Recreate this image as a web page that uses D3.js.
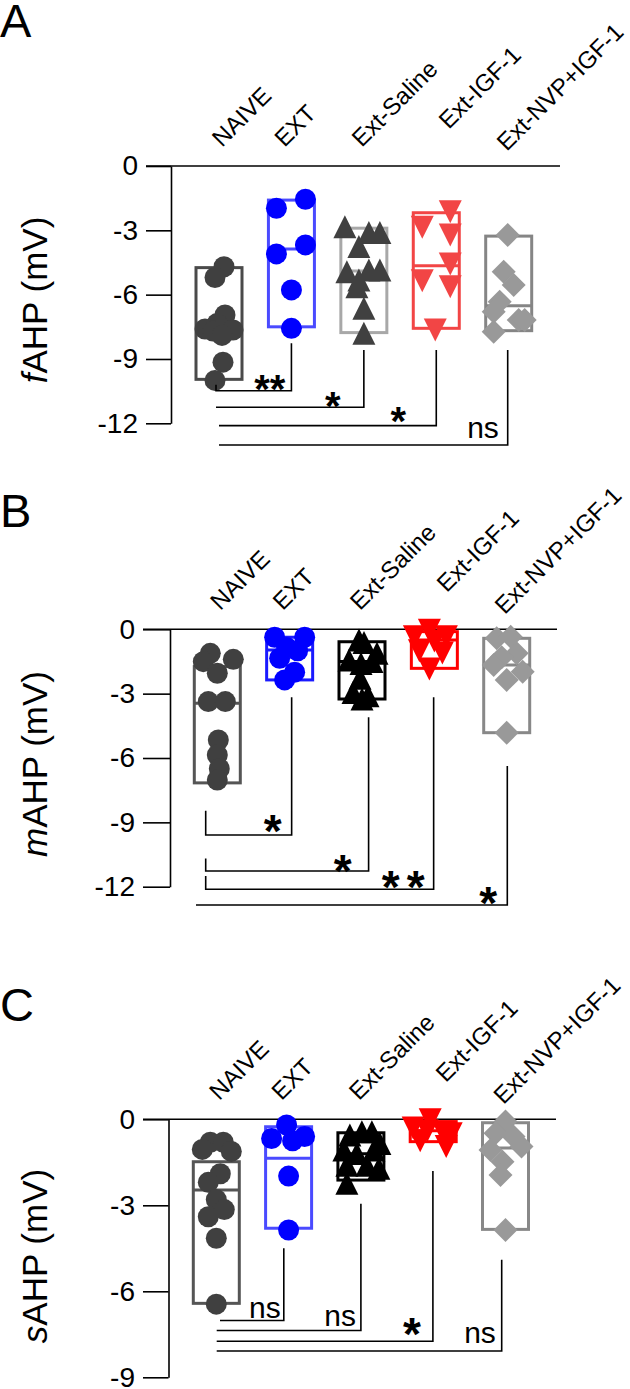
<!DOCTYPE html>
<html><head><meta charset="utf-8">
<script src="https://cdn.jsdelivr.net/npm/d3@7"></script>
<style>body{margin:0;background:#fff}svg{display:block}text{font-family:"Liberation Sans",Arial,Helvetica,sans-serif}</style>
</head><body>
<svg id="chart" width="630" height="1389"></svg>
<script>
// ---------------- DATA ----------------
const categories = ["NAIVE", "EXT", "Ext-Saline", "Ext-IGF-1", "Ext-NVP+IGF-1"];
const ticksAB = [0, -3, -6, -9, -12];
const ticksC = [0, -3, -6, -9];
const panelLetters = ["A", "B", "C"];
const yTitles = [["f", "AHP (mV)"], ["m", "AHP (mV)"], ["s", "AHP (mV)"]];

// Panel A: fAHP (mV)
const fNaive = [-4.7, -5.2, -6.95, -7.35, -7.6, -7.65, -7.7, -7.9, -9.15, -10.0];
const fExt = [-1.55, -1.97, -3.68, -4.10, -5.78, -7.57];
const fSaline = [-2.83, -3.1, -3.1, -3.76, -4.93, -4.85, -4.85, -5.32, -5.63, -6.64, -7.8];
const fIgf = [-2.13, -2.86, -3.22, -4.57, -5.35, -5.63, -7.65];
const fNvp = [-3.22, -4.93, -5.55, -6.33, -6.8, -7.18, -7.18, -7.73];
const fBoxMax = [-4.74, -1.59, -2.9, -2.18, -3.27];
const fBoxMin = [-9.95, -7.5, -7.77, -7.57, -7.68];
const fBoxMid = [-7.6, -3.87, -4.9, -4.65, -6.52];
const fSig = ["**", "*", "*", "ns"];

// Panel B: mAHP (mV)
const mNaive = [-1.12, -1.51, -1.4, -2.05, -3.37, -3.37, -5.16, -5.86, -6.5, -7.03];
const mExt = [-0.37, -0.37, -0.85, -1.0, -1.35, -2.0, -2.36];
const mSaline = [-0.5, -0.62, -1.12, -1.43, -1.6, -1.5, -2.28, -2.95, -3.1, -3.25];
const mIgf = [-0.05, -0.35, -0.35, -0.55, -1.0, -1.1, -1.85];
const mNvp = [-0.42, -0.35, -1.12, -1.3, -1.66, -1.98, -2.36, -4.82];
const mBoxMax = [-1.74, -0.37, -0.58, -0.11, -0.42];
const mBoxMin = [-7.16, -2.36, -3.25, -1.82, -4.82];
const mBoxMid = [-3.45, -0.97, -1.5, -0.5, -1.66];
const mSig = ["*", "*", "**", "*"];

// Panel C: sAHP (mV)
const sNaive = [-0.8, -0.8, -1.05, -1.12, -1.9, -2.2, -2.8, -3.15, -3.4, -4.15, -6.45];
const sExt = [-0.2, -0.67, -0.75, -0.6, -1.98, -3.86];
const sSaline = [-0.55, -0.43, -0.43, -0.84, -1.07, -1.19, -1.07, -1.6, -1.6, -1.71, -2.23];
const sIgf = [-0.02, -0.3, -0.4, -0.45, -0.5, -0.75, -0.95];
const sNvp = [-0.08, -0.49, -0.6, -0.95, -1.07, -1.48, -1.94, -3.86];
const sBoxMax = [-1.48, -0.26, -0.47, -0.08, -0.12];
const sBoxMin = [-6.42, -3.8, -2.12, -0.78, -3.84];
const sBoxMid = [-2.47, -1.36, -1.2, -0.4, -1.0];
const sSig = ["ns", "ns", "*", "ns"];

// ---------------- LAYOUT (positions / styles, not data) ----------------
const jitterA = [[5,-4,6,-2,-14,14,-6,3,4,-4],[14,-15,14,-15,0,0],[-19,5,16,-5,-17,5,16,-5,-7,0,0],[14,-14,14,14,-14,14,-1],[-1,-5,5,-9,-15,10,16,-15]];
const jitterB = [[-7,-14,16,0,-9,8,1,0,2,0],[-15,15,-3,8,-10,5,-5],[-3,2,15,-13,-1,10,-2,-9,6,0],[-5,-20,12,0,-15,8,-5],[-10,4,10,-5,-13,16,0,0]];
const jitterC = [[-6,7,-14,15,4,-8,0,8,-8,0,0],[-2,-17,4,16,0,0],[-11,1,11,19,-17,-4,13,-14,6,18,-14],[-3,-20,-6,10,18,-13,13],[0,-10,8,16,-15,-3,-5,0]];
const shapes = ["circle", "circle", "triUp", "triDown", "diamond"];
const labelDx = [3, -7, -2, 12.5, -2];
const labelDy = [-18, -18, -18, -36, -14];
const LABEL_ANGLE = -45;

const panels = [
  { letter: panelLetters[0], title: yTitles[0], groups: [fNaive, fExt, fSaline, fIgf, fNvp], jit: jitterA,
    boxMax: fBoxMax, boxMin: fBoxMin, boxMid: fBoxMid, sig: fSig, ticks: ticksAB,
    yRange: [166, 423.3], xRange: [219, 508.7], axisX: 171, tickLeft: 146, zeroRight: 560, titleY: 300, letterY: 37,
    fill: ["#404040", "#0000ff", "#404040", "#f24545", "#999999"],
    stroke: ["#4a4a4a", "#4a4aff", "#a8a8a8", "#f24545", "#858585"],
    brackets: { level: [-10.48, -11.25, -12.11, -13.01], leftTop: [-10.2, null, null, null], rightTop: [-8.27, -8.58, -8.58, -8.58],
      leftDx: [-3, -3, 0, 0], rightDx: [0, 0, 0, -1], lab: [[-21.7, -10.7], [-31, -10.3], [-38, -14], [-24.7, -15]] },
    starSize: 40, starSpacing: 0 },
  { letter: panelLetters[1], title: yTitles[1], groups: [mNaive, mExt, mSaline, mIgf, mNvp], jit: jitterB,
    boxMax: mBoxMax, boxMin: mBoxMin, boxMid: mBoxMid, sig: mSig, ticks: ticksAB,
    yRange: [629.3, 886.7], xRange: [217.3, 506.7], axisX: 170, tickLeft: 143, zeroRight: 557, titleY: 764, letterY: 527,
    fill: ["#404040", "#0000ff", "#000000", "#ff0000", "#999999"],
    stroke: ["#555555", "#1a1aff", "#000000", "#ff0000", "#888888"],
    brackets: { level: [-9.59, -11.27, -12.12, -12.85], leftTop: [-8.46, -10.68, -11.5, null], rightTop: [-3.17, -4.1, -3.17, -6.37],
      leftDx: [-11.6, -11.6, -11.6, -21.3], rightDx: [2, 6.6, -0.7, 0.6], lab: [[-19, -15], [-26, -11], [-27, -12.6], [-19, -13]] },
    starSize: 46, starSpacing: 7 },
  { letter: panelLetters[2], title: yTitles[2], groups: [sNaive, sExt, sSaline, sIgf, sNvp], jit: jitterC,
    boxMax: sBoxMax, boxMin: sBoxMin, boxMid: sBoxMid, sig: sSig, ticks: ticksC,
    yRange: [1119.3, 1377.3], xRange: [216.3, 505.5], axisX: 168.5, tickLeft: 143, zeroRight: 556, titleY: 1256, letterY: 1021,
    fill: ["#404040", "#0000ff", "#000000", "#ff0000", "#999999"],
    stroke: ["#555555", "#4a4aff", "#000000", "#ff0000", "#888888"],
    brackets: { level: [-7.02, -7.37, -7.74, -8.08], leftTop: [null, null, null, null], rightTop: [-4.5, -2.95, -1.8, -4.9],
      leftDx: [3.7, 0.4, 0.4, 0.4], rightDx: [-4.8, 0, -0.3, -3.8], lab: [[-19, -10.7], [-20.7, -12.7], [-21, -18], [-21.7, -16]] },
    starSize: 46, starSpacing: 0 }
];

const svg = d3.select("#chart");
const BOXW = 46;

function markerPath(shape) {
  const h = 11.5;
  if (shape === "triUp") return `M0,${-h}L${h},${h}L${-h},${h}Z`;
  if (shape === "triDown") return `M${-h},${-h}L${h},${-h}L0,${h}Z`;
  if (shape === "diamond") return `M0,-12L12,0L0,12L-12,0Z`;
  return null;
}

panels.forEach((p) => {
  const yMin = d3.min(p.ticks);
  const y = d3.scaleLinear().domain([0, yMin]).range(p.yRange);
  const x = d3.scalePoint().domain(categories).range(p.xRange);
  const g = svg.append("g");

  // panel letter
  g.append("text").attr("x", 0).attr("y", p.letterY).attr("font-size", 47).attr("fill", "#000").text(p.letter);

  // y title
  const t = g.append("text").attr("transform", `translate(47,${p.titleY}) rotate(-90)`)
    .attr("text-anchor", "middle").attr("font-size", 35).attr("fill", "#000");
  t.append("tspan").attr("font-style", "italic").text(p.title[0]);
  t.append("tspan").text(p.title[1]);

  // zero line
  g.append("line").attr("x1", p.tickLeft).attr("x2", p.zeroRight).attr("y1", y(0)).attr("y2", y(0))
    .attr("stroke", "#000").attr("stroke-width", 1.6);

  // y axis
  const axis = d3.axisLeft(y).tickValues(p.ticks).tickSize(p.axisX - p.tickLeft).tickSizeOuter(0).tickPadding(8)
    .tickFormat(d3.format("d"));
  const ag = g.append("g").attr("transform", `translate(${p.axisX},0)`).call(axis);
  ag.select(".domain").attr("stroke", "#000").attr("stroke-width", 1.6);
  ag.selectAll(".tick line").attr("stroke", "#000").attr("stroke-width", 1.6);
  ag.selectAll(".tick text").attr("font-size", 28).attr("font-family", '"Liberation Sans",Arial,sans-serif').attr("fill", "#000")
    .text(d => d === 0 ? "0" : "-" + Math.abs(d));

  // category labels
  categories.forEach((c, i) => {
    g.append("text").attr("transform", `translate(${x(c) + labelDx[i]},${y(0) + labelDy[i]}) rotate(${LABEL_ANGLE})`)
      .attr("font-size", 24).attr("fill", "#000").text(c);
  });

  // boxes
  categories.forEach((c, i) => {
    g.append("rect").attr("x", x(c) - BOXW / 2).attr("width", BOXW)
      .attr("y", y(p.boxMax[i])).attr("height", y(p.boxMin[i]) - y(p.boxMax[i]))
      .attr("fill", "none").attr("stroke", p.stroke[i]).attr("stroke-width", 3);
    g.append("line").attr("x1", x(c) - BOXW / 2).attr("x2", x(c) + BOXW / 2)
      .attr("y1", y(p.boxMid[i])).attr("y2", y(p.boxMid[i]))
      .attr("stroke", p.stroke[i]).attr("stroke-width", 3);
  });

  // points
  p.groups.forEach((vals, i) => {
    const c = categories[i];
    vals.forEach((v, k) => {
      const cx = x(c) + p.jit[i][k], cy = y(v);
      if (shapes[i] === "circle") {
        g.append("circle").attr("cx", cx).attr("cy", cy).attr("r", 10.5).attr("fill", p.fill[i]);
      } else {
        g.append("path").attr("d", markerPath(shapes[i])).attr("transform", `translate(${cx},${cy})`).attr("fill", p.fill[i]);
      }
    });
  });

  // significance brackets
  const b = p.brackets;
  p.sig.forEach((s, j) => {
    const xl = x(categories[0]) + b.leftDx[j];
    const xr = x(categories[j + 1]) + b.rightDx[j];
    const yl = y(b.level[j]);
    let d = "";
    if (b.leftTop[j] !== null) d += `M${xl},${y(b.leftTop[j])}L${xl},${yl}`; else d += `M${xl},${yl}`;
    d += `L${xr},${yl}L${xr},${y(b.rightTop[j])}`;
    g.append("path").attr("d", d).attr("fill", "none").attr("stroke", "#000").attr("stroke-width", 1.6);
    const lx = xr + b.lab[j][0], ly = yl + b.lab[j][1];
    if (s === "ns") {
      g.append("text").attr("x", lx).attr("y", ly + 0.26 * 30).attr("text-anchor", "middle").attr("font-size", 30).attr("fill", "#000").text(s);
    } else {
      g.append("text").attr("x", lx).attr("y", ly + 0.58 * p.starSize).attr("text-anchor", "middle")
        .attr("font-size", p.starSize).attr("font-weight", "bold").attr("letter-spacing", s.length > 1 ? p.starSpacing : 0)
        .attr("fill", "#000").text(s);
    }
  });
});
</script>
</body></html>
